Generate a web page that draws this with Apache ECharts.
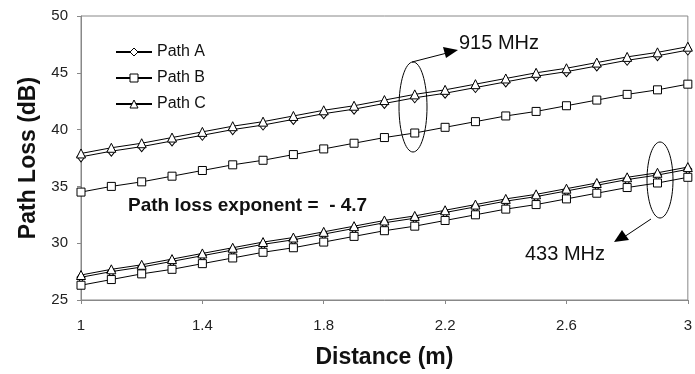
<!DOCTYPE html>
<html>
<head>
<meta charset="utf-8">
<script src="https://cdn.jsdelivr.net/npm/echarts@6/dist/echarts.min.js"></script>
<style>
  html, body { margin: 0; padding: 0; background: #fff; }
  #chart { width: 695px; height: 374px; }
</style>
</head>
<body>
<div id="chart"></div>
<script>
// distances (m)
const distance = [1.0, 1.1, 1.2, 1.3, 1.4, 1.5, 1.6, 1.7, 1.8, 1.9, 2.0,
                  2.1, 2.2, 2.3, 2.4, 2.5, 2.6, 2.7, 2.8, 2.9, 3.0];
const xTicks = [1, 1.4, 1.8, 2.2, 2.6, 3];

// 915 MHz path loss (dB)
const pathA915 = [37.6, 38.1, 38.5, 39.0, 39.5, 40.0, 40.4, 40.9, 41.4, 41.8, 42.3,
                  42.8, 43.2, 43.7, 44.2, 44.7, 45.1, 45.6, 46.1, 46.5, 47.0];
const pathB915 = [34.5, 35.0, 35.4, 35.9, 36.4, 36.9, 37.3, 37.8, 38.3, 38.8, 39.3,
                  39.7, 40.2, 40.7, 41.2, 41.6, 42.1, 42.6, 43.1, 43.5, 44.0];
const pathC915 = [37.9, 38.4, 38.8, 39.3, 39.8, 40.3, 40.7, 41.2, 41.7, 42.1, 42.6,
                  43.1, 43.5, 44.0, 44.5, 45.0, 45.4, 45.9, 46.4, 46.8, 47.3];

// 433 MHz path loss (dB)
const pathA433 = [27.0, 27.5, 27.9, 28.4, 28.9, 29.4, 29.9, 30.3, 30.8, 31.3, 31.8,
                  32.2, 32.7, 33.2, 33.7, 34.1, 34.6, 35.1, 35.6, 36.0, 36.5];
const pathB433 = [26.3, 26.8, 27.3, 27.7, 28.2, 28.7, 29.2, 29.6, 30.1, 30.6, 31.1,
                  31.5, 32.0, 32.5, 33.0, 33.4, 33.9, 34.4, 34.9, 35.3, 35.8];
const pathC433 = [27.2, 27.7, 28.1, 28.6, 29.1, 29.6, 30.1, 30.5, 31.0, 31.5, 32.0,
                  32.4, 32.9, 33.4, 33.9, 34.3, 34.8, 35.3, 35.8, 36.2, 36.7];

const chart = echarts.init(document.getElementById('chart'));

const pair = vals => distance.map((d, i) => [d, vals[i]]);

const mkSeries = (name, vals, symbol, size) => ({
  name: name,
  type: 'line',
  data: pair(vals),
  symbol: symbol,
  symbolSize: size,
  showAllSymbol: true,
  clip: false,
  lineStyle: { color: '#000', width: 1 },
  itemStyle: { color: '#fff', borderColor: '#000', borderWidth: 1 },
  emphasis: { disabled: true },
  z: 3
});

const font = 'Liberation Sans, Arial, sans-serif';

const option = {
  animation: false,
  textStyle: { fontFamily: font },
  grid: {
    left: 81, right: 2, top: 16, bottom: 74,
    show: true, borderColor: '#888', borderWidth: 1
  },
  legend: {
    data: [
      { name: 'Path A', itemStyle: { borderWidth: 1 } },
      { name: 'Path B', itemStyle: { borderWidth: 1 } },
      { name: 'Path C', itemStyle: { borderWidth: 1 } }
    ],
    orient: 'vertical',
    left: 110, top: 39,
    itemWidth: 36, itemHeight: 10, itemGap: 10,
    textStyle: { fontSize: 16, lineHeight: 16, color: '#111', fontFamily: font },
    selectedMode: false
  },
  xAxis: {
    type: 'value',
    min: 1, max: 3, interval: 0.4,
    name: 'Distance (m)',
    nameLocation: 'middle',
    nameGap: 46,
    nameTextStyle: { fontSize: 23, fontWeight: 'bold', color: '#111', fontFamily: font },
    axisLine: { lineStyle: { color: '#888' } },
    axisTick: { show: true, length: 4, lineStyle: { color: '#888' } },
    axisLabel: {
      fontSize: 15, color: '#222', margin: 18,
      formatter: v => String(Math.round(v * 10) / 10)
    },
    splitLine: { show: false }
  },
  yAxis: {
    type: 'value',
    min: 25, max: 50, interval: 5,
    name: 'Path Loss (dB)',
    nameLocation: 'middle',
    nameGap: 40,
    nameTextStyle: { fontSize: 23, fontWeight: 'bold', color: '#111', fontFamily: font },
    axisLine: { show: true, lineStyle: { color: '#888' } },
    axisTick: { show: true, length: 4, lineStyle: { color: '#888' } },
    axisLabel: { fontSize: 15, color: '#222', margin: 13 },
    splitLine: { show: false }
  },
  graphic: [
    // 915 MHz grouping
    { type: 'ellipse', shape: { cx: 413, cy: 107, rx: 14, ry: 45 },
      style: { fill: 'none', stroke: '#000', lineWidth: 1 }, z: 10 },
    { type: 'line', shape: { x1: 412, y1: 62, x2: 447, y2: 53 },
      style: { stroke: '#000', lineWidth: 1 }, z: 10 },
    { type: 'polygon', shape: { points: [[458, 50], [443, 47], [446, 58]] },
      style: { fill: '#000' }, z: 10 },
    { type: 'text', left: 459, top: 33,
      style: { text: '915 MHz', fontSize: 20, fill: '#111', fontFamily: font }, z: 10 },
    // 433 MHz grouping
    { type: 'ellipse', shape: { cx: 660, cy: 180, rx: 13, ry: 38 },
      style: { fill: 'none', stroke: '#000', lineWidth: 1 }, z: 10 },
    { type: 'line', shape: { x1: 651, y1: 219, x2: 624, y2: 237 },
      style: { stroke: '#000', lineWidth: 1 }, z: 10 },
    { type: 'polygon', shape: { points: [[614, 242], [622, 230], [629, 240]] },
      style: { fill: '#000' }, z: 10 },
    { type: 'text', left: 525, top: 244,
      style: { text: '433 MHz', fontSize: 20, fill: '#111', fontFamily: font }, z: 10 },
    // exponent note
    { type: 'text', left: 128, top: 196,
      style: { text: 'Path loss exponent =  - 4.7', fontSize: 19, fontWeight: 'bold', fill: '#111', fontFamily: font }, z: 10 }
  ],
  series: [
    mkSeries('Path A', pathA915, 'diamond', [8, 10]),
    mkSeries('Path B', pathB915, 'rect', 8),
    mkSeries('Path C', pathC915, 'triangle', 9),
    mkSeries('Path A', pathA433, 'diamond', [8, 10]),
    mkSeries('Path B', pathB433, 'rect', 8),
    mkSeries('Path C', pathC433, 'triangle', 9)
  ]
};

chart.setOption(option);
</script>
</body>
</html>
